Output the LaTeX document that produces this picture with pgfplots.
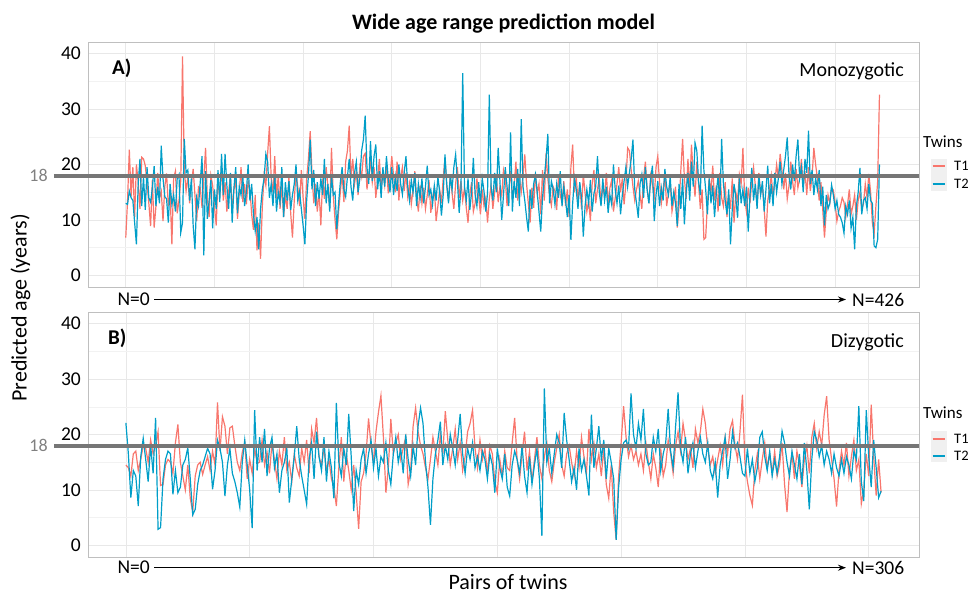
\documentclass[border=0pt]{standalone}
\usepackage{fontspec}
\setmainfont{Carlito}
\usepackage{pgfplots}
\usepackage{pgfplotstable}
\pgfplotsset{compat=1.18}
\usetikzlibrary{arrows.meta}

\definecolor{tone}{HTML}{F8766D}
\definecolor{ttwo}{HTML}{009EC8}
\definecolor{refline}{HTML}{767676}

% monozygotic pairs, twin 1 and twin 2 (426 pairs)
\pgfplotstableread[row sep=\\]{v\\
6.8\\ 13.5\\ 22.7\\ 14.2\\ 19.5\\ 10.5\\ 20.0\\ 16.8\\ 12.0\\ 21.3\\
21.0\\ 19.8\\ 16.5\\ 13.0\\ 8.9\\ 17.2\\ 8.6\\ 12.4\\ 18.5\\ 14.0\\
15.2\\ 9.8\\ 16.0\\ 18.4\\ 12.5\\ 14.8\\ 5.6\\ 17.5\\ 18.8\\ 11.2\\
13.5\\ 17.0\\ 39.5\\ 19.0\\ 15.2\\ 17.8\\ 13.0\\ 16.4\\ 19.2\\ 14.5\\
9.8\\ 16.0\\ 15.8\\ 12.2\\ 17.5\\ 23.0\\ 14.0\\ 10.5\\ 18.0\\ 16.2\\
12.5\\ 9.0\\ 17.6\\ 14.2\\ 19.8\\ 13.5\\ 16.8\\ 11.5\\ 15.0\\ 18.2\\
12.0\\ 15.5\\ 17.2\\ 10.2\\ 14.8\\ 19.5\\ 13.2\\ 16.5\\ 12.8\\ 17.0\\
15.5\\ 11.0\\ 8.2\\ 14.5\\ 4.5\\ 9.5\\ 3.0\\ 12.5\\ 18.0\\ 16.2\\
22.0\\ 26.9\\ 17.5\\ 15.0\\ 21.5\\ 13.8\\ 18.2\\ 12.0\\ 16.5\\ 10.5\\
14.5\\ 12.0\\ 17.8\\ 11.2\\ 6.8\\ 13.5\\ 18.5\\ 16.0\\ 12.5\\ 19.0\\
14.0\\ 10.2\\ 17.5\\ 21.0\\ 26.0\\ 18.5\\ 13.0\\ 16.5\\ 11.5\\ 15.2\\
9.0\\ 17.5\\ 13.8\\ 19.5\\ 16.0\\ 12.0\\ 23.0\\ 14.5\\ 10.0\\ 6.5\\
11.5\\ 15.0\\ 18.5\\ 13.2\\ 20.5\\ 22.5\\ 27.0\\ 17.5\\ 21.0\\ 16.5\\
18.8\\ 14.5\\ 19.5\\ 17.8\\ 21.5\\ 22.0\\ 15.5\\ 18.0\\ 20.5\\ 16.8\\
19.5\\ 14.0\\ 17.2\\ 21.0\\ 15.8\\ 18.5\\ 16.2\\ 20.0\\ 14.8\\ 17.5\\
21.5\\ 18.0\\ 15.0\\ 20.5\\ 13.5\\ 17.8\\ 19.5\\ 15.2\\ 18.5\\ 14.2\\
16.5\\ 12.8\\ 15.5\\ 18.8\\ 14.0\\ 11.5\\ 16.2\\ 13.0\\ 15.8\\ 12.0\\
14.5\\ 17.2\\ 11.3\\ 13.8\\ 16.0\\ 9.8\\ 12.5\\ 15.5\\ 13.0\\ 17.5\\
21.2\\ 16.0\\ 13.5\\ 18.2\\ 14.8\\ 12.0\\ 16.5\\ 19.5\\ 14.0\\ 17.0\\
13.5\\ 15.8\\ 12.2\\ 9.5\\ 14.5\\ 16.8\\ 11.5\\ 13.0\\ 17.5\\ 14.2\\
11.0\\ 15.5\\ 12.5\\ 14.0\\ 9.5\\ 13.8\\ 16.2\\ 12.0\\ 15.0\\ 17.8\\
13.2\\ 16.0\\ 14.5\\ 19.0\\ 17.5\\ 12.5\\ 15.5\\ 18.8\\ 14.0\\ 16.2\\
20.5\\ 13.5\\ 17.2\\ 15.0\\ 18.0\\ 21.8\\ 16.5\\ 13.0\\ 9.5\\ 15.8\\
12.2\\ 18.5\\ 14.8\\ 16.5\\ 11.0\\ 19.0\\ 13.5\\ 22.0\\ 17.5\\ 14.2\\
12.6\\ 16.0\\ 15.2\\ 11.8\\ 18.0\\ 14.5\\ 13.0\\ 17.0\\ 12.5\\ 15.5\\
10.5\\ 19.5\\ 23.6\\ 15.0\\ 17.8\\ 13.5\\ 16.5\\ 12.0\\ 18.2\\ 14.8\\
11.5\\ 13.5\\ 9.8\\ 16.5\\ 19.0\\ 13.0\\ 15.5\\ 17.5\\ 12.8\\ 16.0\\
14.5\\ 18.5\\ 13.0\\ 15.8\\ 17.2\\ 11.5\\ 14.0\\ 16.5\\ 19.5\\ 15.0\\
17.5\\ 12.8\\ 16.5\\ 23.0\\ 22.5\\ 19.0\\ 16.0\\ 13.5\\ 15.5\\ 17.0\\
14.5\\ 12.0\\ 17.5\\ 20.5\\ 15.5\\ 13.0\\ 18.0\\ 16.2\\ 14.0\\ 19.5\\
21.5\\ 16.8\\ 13.0\\ 15.5\\ 18.2\\ 12.5\\ 14.8\\ 17.0\\ 11.5\\ 13.5\\
16.0\\ 8.6\\ 12.5\\ 19.0\\ 24.6\\ 17.5\\ 13.8\\ 21.0\\ 15.5\\ 23.6\\
18.0\\ 14.2\\ 20.5\\ 16.5\\ 12.0\\ 15.5\\ 6.5\\ 6.8\\ 13.0\\ 17.5\\
15.0\\ 19.8\\ 13.5\\ 16.2\\ 11.5\\ 18.5\\ 14.0\\ 12.5\\ 16.8\\ 10.5\\
14.5\\ 12.0\\ 17.5\\ 9.5\\ 15.0\\ 13.5\\ 18.2\\ 16.5\\ 23.0\\ 14.0\\
11.5\\ 15.8\\ 13.0\\ 17.0\\ 19.5\\ 16.2\\ 12.5\\ 18.5\\ 14.8\\ 16.0\\
12.0\\ 7.0\\ 13.5\\ 15.5\\ 18.0\\ 14.2\\ 16.8\\ 20.0\\ 17.5\\ 21.9\\
19.0\\ 15.5\\ 18.5\\ 13.8\\ 16.2\\ 20.5\\ 17.0\\ 14.5\\ 19.2\\ 15.8\\
17.5\\ 21.0\\ 16.0\\ 18.8\\ 14.5\\ 19.5\\ 15.2\\ 17.8\\ 23.0\\ 20.0\\
17.5\\ 13.5\\ 16.8\\ 12.0\\ 6.8\\ 11.5\\ 14.5\\ 13.0\\ 15.8\\ 15.4\\
13.0\\ 9.8\\ 11.5\\ 12.5\\ 14.0\\ 13.2\\ 10.5\\ 12.8\\ 15.5\\ 11.0\\
12.5\\ 14.5\\ 10.0\\ 13.5\\ 15.0\\ 11.8\\ 13.0\\ 16.5\\ 14.0\\ 18.3\\
15.0\\ 9.5\\ 7.5\\ 12.5\\ 17.0\\ 32.6\\
}\mzone

\pgfplotstableread[row sep=\\]{v\\
13.0\\ 12.8\\ 15.2\\ 14.0\\ 13.5\\ 9.5\\ 5.6\\ 16.5\\ 21.0\\ 12.5\\
17.8\\ 11.8\\ 19.5\\ 14.0\\ 13.2\\ 15.8\\ 19.7\\ 12.5\\ 16.0\\ 13.0\\
23.4\\ 17.5\\ 14.2\\ 13.8\\ 9.5\\ 16.5\\ 12.8\\ 14.5\\ 11.5\\ 17.5\\
18.2\\ 7.7\\ 9.5\\ 24.6\\ 18.5\\ 19.0\\ 13.5\\ 17.5\\ 9.0\\ 4.7\\
14.0\\ 12.5\\ 16.8\\ 21.5\\ 3.6\\ 18.8\\ 10.2\\ 13.5\\ 17.2\\ 8.5\\
15.5\\ 12.0\\ 19.0\\ 13.2\\ 21.9\\ 14.5\\ 21.9\\ 16.2\\ 12.0\\ 18.5\\
9.5\\ 15.8\\ 19.5\\ 11.2\\ 16.0\\ 14.5\\ 17.8\\ 12.5\\ 15.0\\ 20.0\\
13.5\\ 16.5\\ 11.0\\ 8.0\\ 10.5\\ 4.7\\ 12.0\\ 15.5\\ 17.5\\ 21.9\\
20.5\\ 14.0\\ 16.5\\ 12.5\\ 18.2\\ 11.5\\ 15.0\\ 13.2\\ 19.5\\ 10.5\\
16.8\\ 13.5\\ 17.0\\ 11.8\\ 14.5\\ 16.5\\ 20.0\\ 13.5\\ 15.2\\ 12.0\\
9.0\\ 5.6\\ 13.5\\ 18.0\\ 24.5\\ 15.5\\ 19.0\\ 12.5\\ 16.8\\ 13.8\\
17.5\\ 14.5\\ 21.0\\ 13.0\\ 16.5\\ 11.5\\ 18.0\\ 14.5\\ 15.0\\ 8.3\\
13.0\\ 16.8\\ 19.5\\ 15.5\\ 14.2\\ 17.8\\ 21.0\\ 16.0\\ 13.5\\ 18.5\\
20.5\\ 15.0\\ 17.5\\ 22.5\\ 24.5\\ 28.8\\ 19.5\\ 16.5\\ 24.2\\ 17.0\\
21.5\\ 23.6\\ 15.5\\ 18.8\\ 14.0\\ 19.5\\ 16.0\\ 21.5\\ 17.5\\ 15.0\\
19.5\\ 14.5\\ 17.8\\ 15.2\\ 20.0\\ 16.5\\ 14.6\\ 18.5\\ 21.5\\ 16.0\\
13.5\\ 17.2\\ 15.0\\ 18.5\\ 12.5\\ 16.5\\ 14.0\\ 17.5\\ 13.0\\ 16.0\\
19.8\\ 14.5\\ 15.5\\ 12.8\\ 16.2\\ 13.5\\ 17.8\\ 15.0\\ 10.8\\ 14.5\\
21.8\\ 16.5\\ 13.0\\ 18.0\\ 15.5\\ 19.5\\ 21.8\\ 17.0\\ 11.3\\ 15.5\\
36.5\\ 16.0\\ 13.5\\ 17.5\\ 11.8\\ 15.0\\ 21.2\\ 14.5\\ 12.5\\ 16.8\\
13.0\\ 17.5\\ 15.2\\ 11.5\\ 14.8\\ 32.6\\ 16.0\\ 13.5\\ 18.5\\ 15.0\\
23.0\\ 17.0\\ 10.0\\ 14.5\\ 19.5\\ 16.0\\ 12.5\\ 25.8\\ 11.5\\ 17.0\\
14.0\\ 19.2\\ 12.5\\ 28.2\\ 16.0\\ 13.5\\ 10.5\\ 7.9\\ 15.5\\ 12.0\\
16.5\\ 18.2\\ 15.0\\ 11.5\\ 7.9\\ 14.0\\ 17.5\\ 21.0\\ 25.5\\ 13.0\\
17.0\\ 15.5\\ 12.8\\ 16.5\\ 14.0\\ 18.8\\ 12.5\\ 16.0\\ 13.5\\ 10.5\\
14.5\\ 6.4\\ 13.0\\ 17.5\\ 15.5\\ 12.0\\ 16.8\\ 14.0\\ 7.0\\ 12.5\\
15.5\\ 13.0\\ 17.2\\ 11.5\\ 14.8\\ 16.0\\ 21.5\\ 15.0\\ 12.5\\ 17.5\\
13.5\\ 16.0\\ 11.3\\ 14.5\\ 12.8\\ 20.0\\ 15.5\\ 13.0\\ 16.2\\ 11.0\\
14.5\\ 17.0\\ 19.5\\ 16.0\\ 18.5\\ 21.0\\ 24.5\\ 15.5\\ 13.0\\ 10.4\\
16.5\\ 18.2\\ 14.0\\ 19.5\\ 15.5\\ 13.0\\ 17.5\\ 19.8\\ 9.8\\ 14.5\\
17.0\\ 12.5\\ 15.8\\ 13.5\\ 19.2\\ 16.0\\ 14.5\\ 17.8\\ 12.5\\ 15.0\\
13.0\\ 8.9\\ 16.5\\ 12.0\\ 17.5\\ 9.2\\ 15.0\\ 18.5\\ 13.5\\ 20.5\\
16.0\\ 23.9\\ 22.5\\ 17.0\\ 14.5\\ 27.0\\ 19.0\\ 15.5\\ 11.0\\ 17.5\\
13.0\\ 16.2\\ 10.5\\ 14.8\\ 18.0\\ 12.5\\ 24.6\\ 16.5\\ 13.5\\ 11.0\\
15.5\\ 5.6\\ 12.0\\ 16.5\\ 14.0\\ 10.4\\ 17.5\\ 13.0\\ 15.5\\ 12.5\\
16.0\\ 7.9\\ 14.5\\ 19.4\\ 13.5\\ 16.5\\ 12.0\\ 18.0\\ 14.5\\ 17.0\\
11.5\\ 15.5\\ 19.8\\ 13.0\\ 16.5\\ 12.5\\ 18.5\\ 15.0\\ 17.5\\ 20.5\\
16.5\\ 19.0\\ 21.5\\ 24.9\\ 18.0\\ 15.5\\ 20.0\\ 17.0\\ 21.5\\ 24.5\\
17.5\\ 19.5\\ 15.0\\ 21.0\\ 18.5\\ 26.1\\ 16.5\\ 19.0\\ 14.5\\ 17.5\\
15.5\\ 19.0\\ 12.5\\ 16.0\\ 9.0\\ 14.5\\ 12.0\\ 13.0\\ 16.3\\ 14.5\\
12.0\\ 13.5\\ 11.0\\ 10.5\\ 9.5\\ 7.6\\ 12.5\\ 11.0\\ 13.5\\ 8.5\\
10.5\\ 4.7\\ 12.5\\ 15.0\\ 19.4\\ 11.0\\ 13.5\\ 14.0\\ 12.0\\ 16.5\\
13.5\\ 13.0\\ 5.3\\ 5.0\\ 6.5\\ 20.0\\
}\mztwo

% dizygotic pairs, twin 1 and twin 2 (306 pairs)
\pgfplotstableread[row sep=\\]{v\\
14.5\\ 14.0\\ 12.5\\ 16.5\\ 17.0\\ 13.5\\ 15.5\\ 18.0\\ 17.5\\ 15.0\\
19.0\\ 16.5\\ 18.0\\ 20.5\\ 10.8\\ 11.0\\ 14.5\\ 15.5\\ 15.0\\ 13.0\\
18.5\\ 21.8\\ 15.0\\ 12.5\\ 10.0\\ 14.5\\ 8.5\\ 6.0\\ 12.5\\ 14.5\\
15.0\\ 12.8\\ 14.5\\ 16.0\\ 13.5\\ 17.0\\ 14.5\\ 25.8\\ 17.0\\ 23.2\\
21.5\\ 16.5\\ 21.2\\ 21.5\\ 18.0\\ 15.0\\ 13.5\\ 16.8\\ 18.5\\ 12.0\\
15.5\\ 13.0\\ 17.5\\ 14.8\\ 15.0\\ 19.0\\ 14.5\\ 16.8\\ 13.0\\ 18.5\\
15.5\\ 12.0\\ 17.0\\ 14.5\\ 19.5\\ 13.5\\ 15.0\\ 11.5\\ 16.5\\ 14.0\\
12.5\\ 17.5\\ 15.0\\ 19.0\\ 13.0\\ 21.0\\ 18.5\\ 23.0\\ 16.0\\ 14.5\\
17.5\\ 13.5\\ 15.5\\ 12.0\\ 10.5\\ 7.1\\ 14.0\\ 19.5\\ 11.5\\ 16.5\\
13.5\\ 10.0\\ 14.5\\ 9.5\\ 3.0\\ 11.5\\ 13.0\\ 16.5\\ 22.9\\ 18.0\\
15.0\\ 20.5\\ 24.0\\ 27.0\\ 19.5\\ 9.5\\ 14.0\\ 22.8\\ 16.5\\ 18.5\\
20.0\\ 15.5\\ 17.5\\ 19.5\\ 11.0\\ 13.5\\ 21.5\\ 24.8\\ 20.5\\ 18.0\\
16.5\\ 14.0\\ 12.0\\ 15.5\\ 19.5\\ 17.0\\ 14.5\\ 20.0\\ 16.5\\ 24.2\\
19.0\\ 14.5\\ 17.5\\ 21.0\\ 15.5\\ 18.5\\ 13.5\\ 16.0\\ 20.5\\ 22.0\\
24.4\\ 17.5\\ 14.0\\ 19.0\\ 15.5\\ 17.5\\ 13.0\\ 18.0\\ 16.5\\ 11.5\\
9.5\\ 15.5\\ 12.5\\ 17.0\\ 14.0\\ 13.5\\ 18.5\\ 23.0\\ 15.5\\ 12.0\\
16.5\\ 20.5\\ 13.5\\ 17.0\\ 11.5\\ 15.5\\ 19.5\\ 14.5\\ 12.0\\ 16.0\\
18.5\\ 13.5\\ 11.5\\ 15.0\\ 17.5\\ 20.0\\ 14.5\\ 12.5\\ 16.5\\ 18.0\\
15.0\\ 12.5\\ 17.0\\ 14.0\\ 19.5\\ 16.0\\ 13.0\\ 21.0\\ 15.5\\ 18.5\\
14.0\\ 16.5\\ 12.5\\ 17.5\\ 11.0\\ 8.5\\ 14.5\\ 6.0\\ 1.0\\ 12.5\\
18.5\\ 25.1\\ 19.5\\ 16.0\\ 18.0\\ 15.5\\ 17.0\\ 14.5\\ 16.5\\ 13.5\\
18.5\\ 15.0\\ 12.0\\ 16.5\\ 14.0\\ 10.5\\ 17.5\\ 12.5\\ 14.5\\ 19.0\\
16.5\\ 13.0\\ 18.0\\ 20.5\\ 17.0\\ 22.0\\ 19.0\\ 15.5\\ 17.5\\ 14.0\\
21.0\\ 18.5\\ 20.5\\ 24.6\\ 22.0\\ 17.5\\ 14.5\\ 16.0\\ 13.0\\ 15.5\\
18.0\\ 14.5\\ 19.5\\ 16.5\\ 21.0\\ 22.5\\ 18.0\\ 15.5\\ 20.5\\ 27.2\\
15.0\\ 11.5\\ 9.0\\ 7.2\\ 13.5\\ 16.5\\ 12.0\\ 15.5\\ 18.5\\ 14.0\\
16.5\\ 13.0\\ 17.0\\ 12.5\\ 14.5\\ 18.5\\ 11.0\\ 6.0\\ 13.5\\ 16.5\\
12.0\\ 17.0\\ 14.5\\ 10.5\\ 15.5\\ 18.0\\ 13.0\\ 19.5\\ 22.0\\ 17.5\\
20.5\\ 18.0\\ 23.5\\ 26.9\\ 19.0\\ 15.5\\ 12.0\\ 7.0\\ 13.5\\ 17.0\\
14.5\\ 18.5\\ 12.5\\ 16.0\\ 19.0\\ 13.5\\ 15.5\\ 7.5\\ 10.0\\ 16.5\\
12.5\\ 25.4\\ 16.0\\ 9.0\\ 15.5\\ 9.5\\
}\dzone

\pgfplotstableread[row sep=\\]{v\\
22.1\\ 16.5\\ 8.6\\ 13.5\\ 12.5\\ 7.1\\ 16.0\\ 19.3\\ 15.5\\ 11.5\\
18.0\\ 13.0\\ 23.0\\ 2.9\\ 3.2\\ 12.0\\ 15.5\\ 17.0\\ 16.5\\ 9.2\\
13.5\\ 9.5\\ 10.5\\ 14.5\\ 15.5\\ 17.6\\ 12.0\\ 5.5\\ 6.5\\ 11.0\\
13.5\\ 14.5\\ 16.0\\ 17.5\\ 16.5\\ 10.1\\ 13.5\\ 19.0\\ 17.5\\ 15.0\\
8.9\\ 14.5\\ 17.5\\ 13.0\\ 11.5\\ 9.5\\ 6.9\\ 15.0\\ 19.0\\ 14.5\\
10.0\\ 3.1\\ 24.4\\ 13.5\\ 19.5\\ 15.0\\ 21.0\\ 12.5\\ 17.5\\ 19.5\\
14.0\\ 16.5\\ 9.5\\ 13.5\\ 15.0\\ 17.5\\ 7.7\\ 12.0\\ 16.0\\ 21.5\\
15.5\\ 12.5\\ 10.0\\ 7.4\\ 15.5\\ 18.5\\ 12.0\\ 20.5\\ 16.0\\ 13.5\\
19.5\\ 11.5\\ 17.0\\ 14.0\\ 8.5\\ 25.7\\ 15.0\\ 12.5\\ 17.5\\ 14.5\\
23.7\\ 16.0\\ 6.2\\ 13.5\\ 11.0\\ 15.5\\ 17.5\\ 13.0\\ 16.5\\ 19.0\\
14.0\\ 17.5\\ 12.5\\ 16.0\\ 15.0\\ 18.5\\ 13.5\\ 11.0\\ 16.5\\ 19.5\\
15.0\\ 17.5\\ 13.0\\ 20.0\\ 15.5\\ 12.5\\ 18.0\\ 14.5\\ 21.5\\ 24.8\\
22.0\\ 15.0\\ 10.5\\ 3.7\\ 12.0\\ 16.5\\ 19.0\\ 22.3\\ 14.5\\ 18.0\\
15.5\\ 20.0\\ 17.5\\ 14.5\\ 19.0\\ 23.7\\ 16.5\\ 13.0\\ 17.5\\ 15.5\\
18.5\\ 14.0\\ 16.0\\ 13.5\\ 17.0\\ 15.5\\ 12.0\\ 16.5\\ 14.5\\ 9.5\\
17.5\\ 14.0\\ 12.0\\ 16.5\\ 10.5\\ 8.9\\ 14.5\\ 17.0\\ 15.5\\ 13.0\\
18.0\\ 12.5\\ 9.5\\ 16.0\\ 11.0\\ 14.5\\ 17.5\\ 12.0\\ 1.7\\ 28.3\\
15.0\\ 17.5\\ 13.0\\ 16.5\\ 20.0\\ 18.5\\ 14.0\\ 23.9\\ 19.0\\ 15.5\\
11.5\\ 14.0\\ 10.0\\ 17.5\\ 13.5\\ 15.5\\ 12.5\\ 9.0\\ 23.6\\ 14.0\\
17.5\\ 21.5\\ 15.5\\ 19.0\\ 12.0\\ 17.5\\ 15.0\\ 12.0\\ 1.0\\ 10.5\\
15.5\\ 18.5\\ 19.0\\ 17.5\\ 27.4\\ 20.0\\ 17.5\\ 22.0\\ 19.0\\ 24.6\\
16.5\\ 14.5\\ 15.0\\ 19.5\\ 17.0\\ 21.0\\ 13.5\\ 16.5\\ 18.5\\ 24.6\\
17.0\\ 14.0\\ 21.5\\ 27.6\\ 17.5\\ 15.0\\ 19.5\\ 13.0\\ 16.5\\ 18.5\\
14.0\\ 17.0\\ 19.5\\ 16.5\\ 15.0\\ 18.5\\ 13.5\\ 12.0\\ 15.0\\ 8.6\\
14.5\\ 17.0\\ 19.5\\ 12.0\\ 15.5\\ 20.5\\ 17.5\\ 18.5\\ 16.0\\ 13.0\\
12.5\\ 17.5\\ 13.0\\ 15.5\\ 11.5\\ 14.0\\ 19.5\\ 20.5\\ 16.0\\ 13.5\\
17.0\\ 12.5\\ 15.5\\ 13.0\\ 16.0\\ 20.6\\ 18.5\\ 15.0\\ 12.5\\ 17.0\\
14.5\\ 12.0\\ 16.5\\ 11.0\\ 18.5\\ 13.5\\ 6.5\\ 15.5\\ 20.5\\ 19.0\\
16.0\\ 18.0\\ 14.5\\ 17.0\\ 15.5\\ 13.0\\ 16.5\\ 14.0\\ 12.5\\ 15.5\\
13.0\\ 16.0\\ 14.5\\ 12.0\\ 17.0\\ 15.5\\ 25.1\\ 11.5\\ 8.0\\ 24.4\\
16.0\\ 10.5\\ 19.0\\ 14.0\\ 8.6\\ 9.8\\
}\dztwo

\pgfplotsset{twinpanel/.style={
  scale only axis, width=831bp, height=245bp, anchor=south west,
  ymin=-2.1, ymax=42.1, ytick={0,10,20,30,40}, minor ytick={5,15,25,35},
  xticklabels={},
  xmajorgrids, ymajorgrids, yminorgrids,
  major grid style={draw=black!9, line width=0.7bp},
  minor grid style={draw=black!5, line width=0.5bp},
  axis line style={draw=black!25, line width=0.7bp},
  major tick length=0pt, minor tick length=0pt,
  clip=false,
  /pgf/number format/assume math mode=true,
  yticklabel style={font=\fontsize{19.5bp}{20bp}\selectfont, inner sep=0pt, xshift=-7bp},
}}

\newcommand\tick[1]{\fontsize{#1}{#1}\selectfont}

\begin{document}
\begin{tikzpicture}
\useasboundingbox (0,0) rectangle (969bp,594bp);

% A) monozygotic
\begin{axis}[twinpanel, at={(88bp,307bp)}, xmin=-21.3, xmax=447.3, xtick={0,50,...,400}]
\addplot[tone, line width=1.2bp] table[x expr=\coordindex, y=v]{\mzone};
\addplot[ttwo, line width=1.2bp] table[x expr=\coordindex, y=v]{\mztwo};
\addplot[refline, line width=4bp] coordinates {(-40.5,18) (447.3,18)};
\node[anchor=east, inner sep=0pt, text=black!50, font=\tick{18bp}] at (axis cs:-43.9,18) {18};
\end{axis}

% B) dizygotic
\begin{axis}[twinpanel, at={(88bp,37bp)}, xmin=-15.3, xmax=320.3, xtick={0,50,...,300}]
\addplot[tone, line width=1.2bp] table[x expr=\coordindex, y=v]{\dzone};
\addplot[ttwo, line width=1.2bp] table[x expr=\coordindex, y=v]{\dztwo};
\addplot[refline, line width=4bp] coordinates {(-29.0,18) (320.3,18)};
\node[anchor=east, inner sep=0pt, text=black!50, font=\tick{18bp}] at (axis cs:-31.5,18) {18};
\end{axis}

% titles and panel labels
\node[anchor=base, inner sep=0pt, font=\tick{22bp}\bfseries] at (503.5bp,564bp) {Wide age range prediction model};
\node[anchor=base, inner sep=0pt, rotate=90, font=\tick{22bp}] at (26.7bp,286bp) {Predicted age (years)};
\node[anchor=base, inner sep=0pt, font=\tick{22bp}] at (508bp,4.5bp) {Pairs of twins};
\node[anchor=base west, inner sep=0pt, font=\tick{21bp}\bfseries] at (112bp,519bp) {A)};
\node[anchor=base west, inner sep=0pt, font=\tick{21bp}\bfseries] at (108bp,249bp) {B)};
\node[anchor=base east, inner sep=0pt, font=\tick{20bp}] at (904bp,517bp) {Monozygotic};
\node[anchor=base east, inner sep=0pt, font=\tick{20bp}] at (904bp,246bp) {Dizygotic};

% N arrows under each panel
\node[anchor=east, inner sep=0pt, font=\tick{19.5bp}] at (150bp,294.5bp) {N=0};
\draw[-{Stealth[length=8bp,width=6bp]}, line width=1.3bp] (154bp,294.5bp) -- (846bp,294.5bp);
\node[anchor=west, inner sep=0pt, font=\tick{19.5bp}] at (852bp,294.5bp) {N=426};
\node[anchor=east, inner sep=0pt, font=\tick{19.5bp}] at (150bp,26.3bp) {N=0};
\draw[-{Stealth[length=8bp,width=6bp]}, line width=1.3bp] (154bp,26.3bp) -- (846bp,26.3bp);
\node[anchor=west, inner sep=0pt, font=\tick{19.5bp}] at (852bp,26.3bp) {N=306};

% legends
\node[anchor=west, inner sep=0pt, font=\tick{17bp}] at (923bp,452.3bp) {Twins};
\fill[black!6] (930.5bp,403bp) rectangle (947bp,435bp);
\draw[tone, line width=2.2bp] (932.5bp,428bp) -- (945bp,428bp);
\draw[ttwo, line width=2.2bp] (932.5bp,410.3bp) -- (945bp,410.3bp);
\node[anchor=west, inner sep=0pt, font=\tick{14.5bp}] at (954bp,428bp) {T1};
\node[anchor=west, inner sep=0pt, font=\tick{14.5bp}] at (954bp,410.3bp) {T2};

\node[anchor=west, inner sep=0pt, font=\tick{17bp}] at (923bp,181bp) {Twins};
\fill[black!6] (930.5bp,132bp) rectangle (947bp,163bp);
\draw[tone, line width=2.2bp] (932.5bp,155bp) -- (945bp,155bp);
\draw[ttwo, line width=2.2bp] (932.5bp,138bp) -- (945bp,138bp);
\node[anchor=west, inner sep=0pt, font=\tick{14.5bp}] at (954bp,155bp) {T1};
\node[anchor=west, inner sep=0pt, font=\tick{14.5bp}] at (954bp,138bp) {T2};
\end{tikzpicture}
\end{document}
